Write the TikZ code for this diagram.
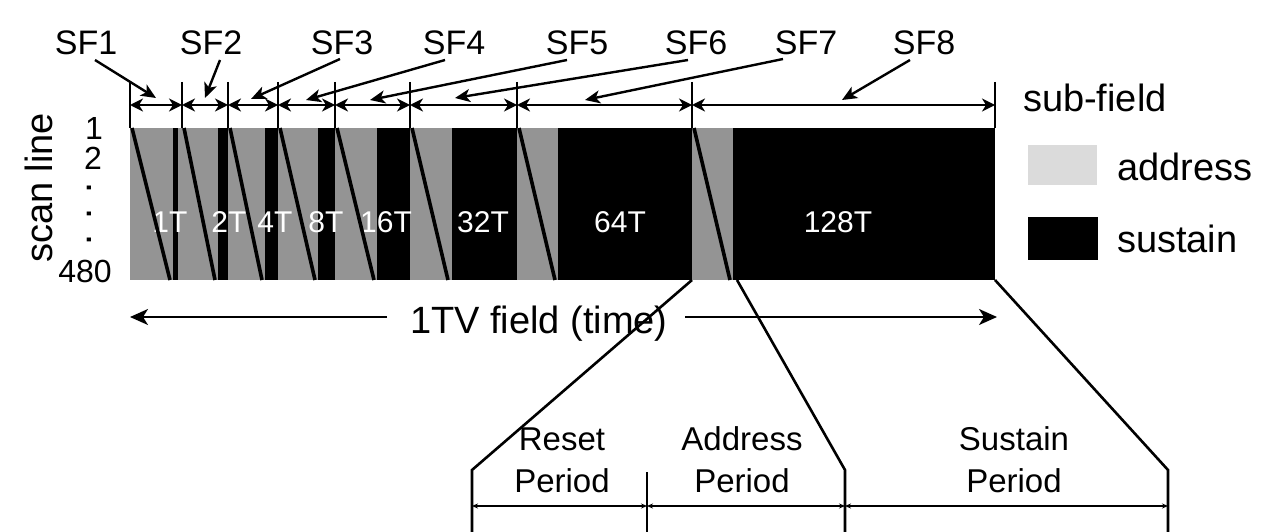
\documentclass[tikz,border=0pt]{standalone}
\usepackage{fontspec}
\setmainfont{Liberation Sans}
\usetikzlibrary{arrows.meta}
\begin{document}
\begin{tikzpicture}[x=1pt,y=-1pt,
  fs/.style={font=\fontsize{#1}{#1}\selectfont},
  txt/.style={inner sep=0pt, outer sep=0pt},
  sflabel/.style={txt, fs=34, anchor=base},
  inlabel/.style={txt, fs=30, text=white, anchor=base},
  biglabel/.style={txt, fs=38, anchor=base west},
  periodlabel/.style={txt, font=\fontsize{33}{42}\selectfont, align=center, anchor=base},
  addr/.style={fill=black!42},
  sust/.style={fill=black},
  diag/.style={line width=3.6pt},
  tick/.style={line width=1.8pt},
  dbl/.style={line width=1.8pt, {Stealth[length=13pt,width=13pt,inset=4pt]}-{Stealth[length=13pt,width=13pt,inset=4pt]}},
  ptr/.style={line width=2.4pt, -{Stealth[length=15pt,width=13pt,inset=4pt]}},
  harrow/.style={line width=2pt, -{Stealth[length=18pt,width=16pt,inset=5pt]}},
  zoomln/.style={line width=2.6pt},
  small/.style={line width=1.5pt, {Stealth[length=6pt,width=5pt]}-{Stealth[length=6pt,width=5pt]}}
]
\useasboundingbox (0,0) rectangle (1283,532);

% ---------- address (grey) regions ----------
\fill[addr] (130,128) rectangle (995,280);

% ---------- sustain (black) blocks ----------
\fill[sust] (173,128) rectangle (178,280);
\fill[sust] (218,128) rectangle (228,280);
\fill[sust] (265,128) rectangle (278,280);
\fill[sust] (318,128) rectangle (335,280);
\fill[sust] (377,128) rectangle (410,280);
\fill[sust] (452,128) rectangle (517,280);
\fill[sust] (558,128) rectangle (692,280);
\fill[sust] (733,128) rectangle (995,280);

% ---------- sustain labels ----------
\node[inlabel] (l1)   at (170,233) {1T};
\node[inlabel] (l2)   at (229,233) {2T};
\node[inlabel] (l4)   at (275,233) {4T};
\node[inlabel] (l8)   at (326,233) {8T};
\node[inlabel] (l16)  at (386,233) {16T};
\node[inlabel] (l32)  at (483,233) {32T};
\node[inlabel] (l64)  at (620,233) {64T};
\node[inlabel] (l128) at (838,233) {128T};

% ---------- scan diagonals ----------
\draw[diag] (132,128) -- (170,280);
\draw[diag] (184,128) -- (215,280);
\draw[diag] (230,128) -- (262,280);
\draw[diag] (280,128) -- (315,280);
\draw[diag] (337,128) -- (374,280);
\draw[diag] (412,128) -- (448,280);
\draw[diag] (519,128) -- (555,280);
\draw[diag] (694,128) -- (730,280);

% ---------- sub-field boundaries ----------
\foreach \x [count=\i from 0] in {130,182,228,278,335,410,517,692,995}{
  \coordinate (b\i) at (\x,82);
  \coordinate (a\i) at (\x,105);
  \draw[tick] (\x,82) -- (\x,128);
}
\draw[dbl] (a0) -- (a1);
\draw[dbl] (a1) -- (a2);
\draw[dbl] (a2) -- (a3);
\draw[dbl] (a3) -- (a4);
\draw[dbl] (a4) -- (a5);
\draw[dbl] (a5) -- (a6);
\draw[dbl] (a6) -- (a7);
\draw[dbl] (a7) -- (a8);

% ---------- SF labels and pointers ----------
\node[sflabel] (sf1) at (86,55)  {SF1};
\node[sflabel] (sf2) at (211,55) {SF2};
\node[sflabel] (sf3) at (342,55) {SF3};
\node[sflabel] (sf4) at (454,55) {SF4};
\node[sflabel] (sf5) at (577,55) {SF5};
\node[sflabel] (sf6) at (696,55) {SF6};
\node[sflabel] (sf7) at (806,55) {SF7};
\node[sflabel] (sf8) at (924,55) {SF8};

\coordinate (p1) at (95,60);  \coordinate (t1) at (156,98);
\coordinate (p2) at (220,60); \coordinate (t2) at (205,98);
\coordinate (p3) at (340,59); \coordinate (t3) at (251,99);
\coordinate (p4) at (445,60); \coordinate (t4) at (306,100);
\coordinate (p5) at (567,60); \coordinate (t5) at (370,100);
\coordinate (p6) at (688,60); \coordinate (t6) at (455,98);
\coordinate (p7) at (783,59); \coordinate (t7) at (585,100);
\coordinate (p8) at (910,60); \coordinate (t8) at (842,100);
\foreach \i in {1,...,8}{ \draw[ptr] (p\i) -- (t\i); }

% ---------- scan line axis ----------
\node[txt, fs=38, rotate=90, anchor=base] (scan) at (52,188) {scan line};
\node[txt, fs=32, anchor=base] (n1) at (94,140) {1};
\node[txt, fs=32, anchor=base] (n2) at (93,170) {2};
\node[txt, fs=40, rotate=90, anchor=base] (dots) at (91,214) {. . .};
\node[txt, fs=32, anchor=base] (n480) at (85,282) {480};

% ---------- legend ----------
\node[biglabel] (subf) at (1023,112) {sub-field};
\fill[black!14] (1028,145) rectangle (1097,185);
\node[biglabel] (leg1) at (1117,180) {address};
\fill[black] (1028,217) rectangle (1098,260);
\node[biglabel] (leg2) at (1117,252) {sustain};

% ---------- 1TV field ----------
\node[biglabel] (tv) at (410,333) {1TV field (time)};
\coordinate (tvL) at (387,317); \coordinate (tvLe) at (130,317);
\coordinate (tvR) at (685,317); \coordinate (tvRe) at (997,317);
\draw[harrow] (tvL) -- (tvLe);
\draw[harrow] (tvR) -- (tvRe);

% ---------- zoomed sub-field ----------
\coordinate (z1) at (692,280); \coordinate (z1b) at (472,470); \coordinate (z1c) at (472,532);
\coordinate (z2) at (737,280); \coordinate (z2b) at (845,470); \coordinate (z2c) at (845,532);
\coordinate (z3) at (995,280); \coordinate (z3b) at (1168,470); \coordinate (z3c) at (1168,532);
\coordinate (zm) at (647,472); \coordinate (zmc) at (647,532);
\draw[zoomln] (z1) -- (z1b) -- (z1c);
\draw[zoomln] (z2) -- (z2b) -- (z2c);
\draw[zoomln] (z3) -- (z3b) -- (z3c);
\draw[line width=1.6pt] (zm) -- (zmc);
\coordinate (h1) at (472,506); \coordinate (h2) at (647,506);
\coordinate (h3) at (845,506); \coordinate (h4) at (1168,506);
\draw[small] (h1) -- (h2);
\draw[small] (h2) -- (h3);
\draw[small] (h3) -- (h4);

\node[periodlabel] (reset) at (562,492) {Reset\\Period};
\node[periodlabel] (addrp) at (742,492) {Address\\Period};
\node[periodlabel] (sustp) at (1014,492) {Sustain\\Period};

\end{tikzpicture}
\end{document}
